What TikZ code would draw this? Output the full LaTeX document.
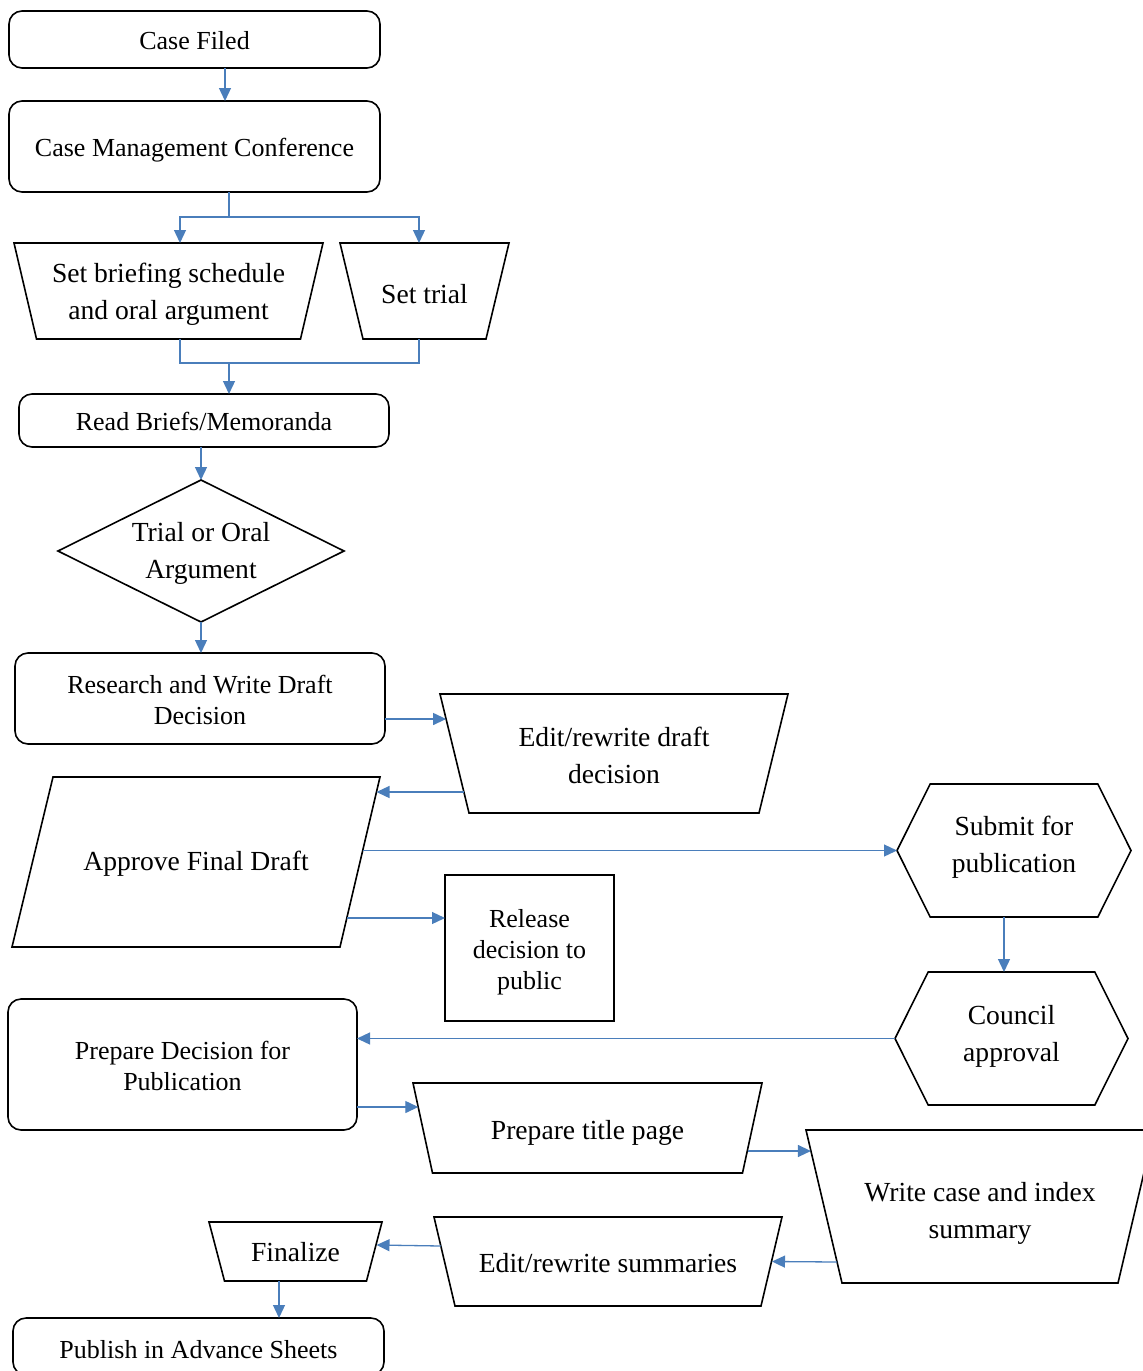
\documentclass[tikz,border=0pt]{standalone}
\usepackage{fontspec}
\setmainfont{Liberation Serif}
\usepackage{xcolor}
\usepackage{tikz}
\usetikzlibrary{positioning, shapes, shapes.geometric, shapes.symbols, arrows.meta, calc}

\definecolor{linkblue}{HTML}{4A7EBB}

\begin{document}
\begin{tikzpicture}[x=1pt, y=1pt,
    every node/.style={font=\fontsize{27.6}{37}\selectfont, align=center, inner sep=2pt, outer sep=0pt, line width=1.6pt,
      text depth=11.1pt},
    rbox/.style={draw, rectangle, rounded corners=13pt, font=\fontsize{26}{31}\selectfont, text depth=9.3pt},
    sqbox/.style={draw, rectangle, font=\fontsize{26}{31}\selectfont, text depth=9.3pt},
    frame/.style={rectangle},
    hexbox/.style={draw, signal, signal to=east and west, signal pointer angle=127},
    outline/.style={draw, line width=1.6pt, line join=miter},
    link/.style={linkblue, line width=1.3pt},
    arr/.style={link, -{Triangle[length=13pt, width=12pt]}}]
    % Court decision workflow
    \useasboundingbox (0,0) rectangle (1143,-1371);

    \node[rbox, text height=29.7pt, minimum width=371, minimum height=57] (casefiled) at (194.5,-39.5) {Case Filed};
    \node[rbox, text height=29.7pt, minimum width=371, minimum height=91] (cmc) at (194.5,-146.5) {Case Management Conference};
    \node[frame, text height=69pt, minimum width=309, minimum height=96] (briefing) at (168.5,-291) {Set briefing schedule\\and oral argument};
    \node[frame, text height=36pt, minimum width=169, minimum height=96] (trial) at (424.5,-291) {Set trial};
    \node[rbox, text height=29.7pt, minimum width=370, minimum height=53] (reads) at (204,-420.5) {Read Briefs/Memoranda};
    \node[frame, text height=66pt, minimum width=286, minimum height=142] (decide) at (201,-551) {Trial or Oral\\Argument};
    \node[rbox, text height=61pt, minimum width=370, minimum height=91] (research) at (200,-698.5) {Research and Write Draft\\Decision};
    \node[frame, text height=72pt, minimum width=348, minimum height=119] (editdraft) at (614,-753.5) {Edit/rewrite draft\\decision};
    \node[frame, text height=28pt, minimum width=368, minimum height=170] (approve) at (196,-862) {Approve Final Draft};
    \node[sqbox, text height=92pt, minimum width=169, minimum height=146] (release) at (529.5,-948) {Release\\decision to\\public};
    \node[hexbox, text height=56pt, minimum width=234, minimum height=133] (submit) at (1014,-850.5) {Submit for\\publication};
    \node[hexbox, text height=58pt, minimum width=233, minimum height=133] (council) at (1011.5,-1038.5) {Council\\approval};
    \node[rbox, text height=61pt, minimum width=349, minimum height=131] (prepdec) at (182.5,-1064.5) {Prepare Decision for\\Publication};
    \node[frame, text height=34pt, minimum width=349, minimum height=90] (title) at (587.5,-1128) {Prepare title page};
    \node[frame, text height=76pt, minimum width=348, minimum height=153] (writecase) at (980,-1206.5) {Write case and index\\summary};
    \node[frame, text height=34pt, minimum width=348, minimum height=89] (editsum) at (608,-1261.5) {Edit/rewrite summaries};
    \node[frame, text height=32pt, minimum width=173, minimum height=59] (finalize) at (295.5,-1251.5) {Finalize};
    \node[rbox, text height=33.7pt, minimum width=371, minimum height=57] (publish) at (198.5,-1346.5) {Publish in Advance Sheets};

    % trapezoid outlines, wide side on top
    \foreach \n/\d in {briefing/22.5, trial/23, editdraft/29, title/19.5, writecase/36, editsum/21, finalize/15.5}
      \draw[outline] (\n.north west) -- (\n.north east) -- ([xshift=-\d]\n.south east) -- ([xshift=\d]\n.south west) -- cycle;
    \draw[outline] ([xshift=41]approve.north west) -- (approve.north east) -- ([xshift=-40]approve.south east) -- (approve.south west) -- cycle;
    \draw[outline] (decide.north) -- (decide.east) -- (decide.south) -- (decide.west) -- cycle;

    \coordinate (split) at ([xshift=34.5, yshift=-25]cmc.south);
    \coordinate (merge) at ([xshift=25, yshift=31]reads.north);

    \draw[arr] ([xshift=30.5]casefiled.south) -- ([xshift=30.5]cmc.north);
    \draw[link] ([xshift=34.5]cmc.south) -- (split);
    \draw[arr] (split) -| ([xshift=11.5]briefing.north);
    \draw[arr] (split) -| ([xshift=-5.5]trial.north);
    \draw[link] ([xshift=11.5]briefing.south) |- (merge) -| ([xshift=-5.5]trial.south);
    \draw[arr] (merge) -- ([xshift=25]reads.north);
    \draw[arr] (reads.south -| decide.north) -- (decide.north);
    \draw[arr] (decide.south) -- (decide.south |- research.north);
    \draw[arr] ([yshift=-20.5]research.east) -- ([xshift=6.1, yshift=34.5]editdraft.west);
    \draw[arr] ([xshift=23.9, yshift=-38.5]editdraft.west) -- ([xshift=-3.5, yshift=70]approve.east);
    \draw[arr] ([xshift=-17.4]approve.east |- submit.west) -- (submit.west);
    \draw[arr] ([xshift=-33.2, yshift=-56]approve.east) -- ([yshift=30]release.west);
    \draw[arr] ([xshift=-10]submit.south) -- ([xshift=-10]submit.south |- council.north);
    \draw[arr] (council.west) -- (council.west -| prepdec.east);
    \draw[arr] ([yshift=-42.5]prepdec.east) -- ([xshift=5.3, yshift=21]title.west);
    \draw[arr] ([xshift=-14.4, yshift=-23]title.east) -- ([xshift=4.9, yshift=55.5]writecase.west);
    \draw[arr] ([xshift=31.1, yshift=-55.5]writecase.west) -- ([xshift=-10]editsum.east);
    \draw[arr] ([xshift=7.2, yshift=15.5]editsum.west) -- ([xshift=-5.5, yshift=6.5]finalize.east);
    \draw[arr] ([xshift=-16.5]finalize.south) -- ([xshift=-16.5]finalize.south |- publish.north);
\end{tikzpicture}
\end{document}
